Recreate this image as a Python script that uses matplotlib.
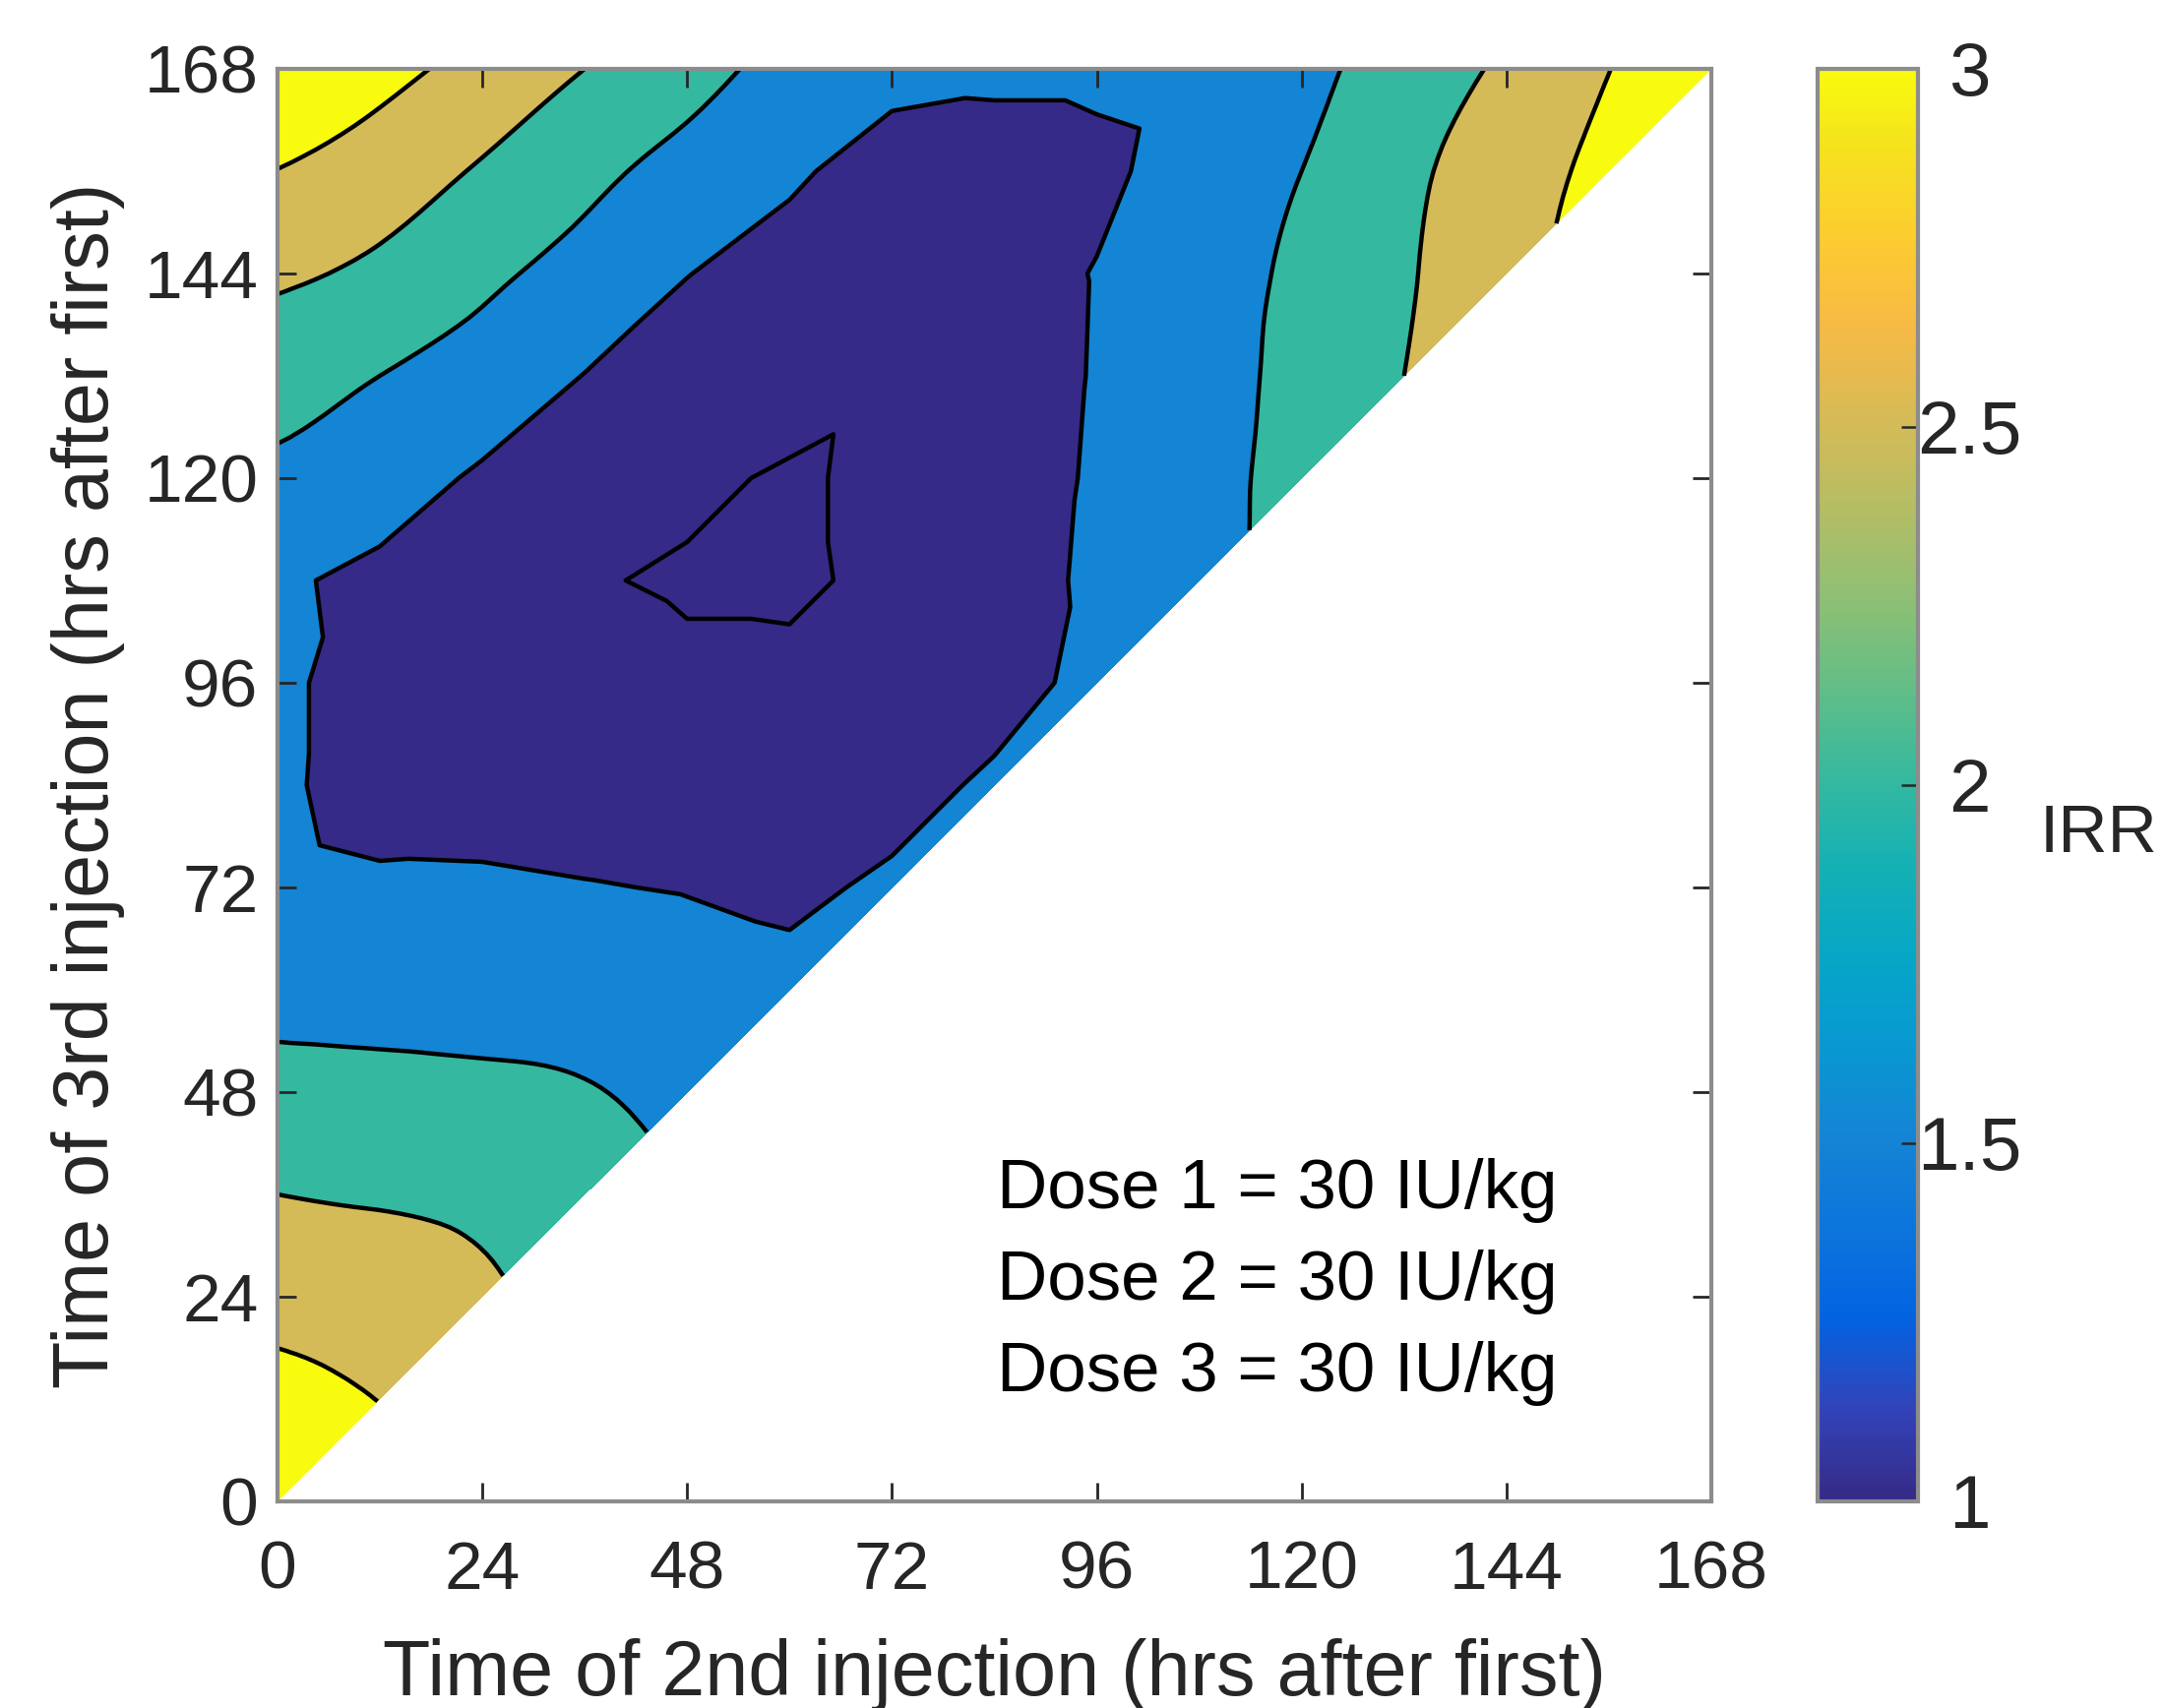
import numpy as np
import matplotlib
matplotlib.use("Agg")
import matplotlib.pyplot as plt
import matplotlib.tri as mtri
from matplotlib.colors import LinearSegmentedColormap, Normalize
from matplotlib.cm import ScalarMappable

plt.rcParams["font.family"] = ["Liberation Sans", "DejaVu Sans"]

# grid nodes (hrs after first injection)
hrs = [0, 12, 24, 36, 48, 60, 72, 84, 96, 108, 120, 132, 144, 156, 168]

# IRR: row k is y = hrs[k], entries are x = hrs[0..k] (only y >= x)
irr_rows = [
    [3.55],
    [3.17, 2.99],
    [2.83, 2.75, 2.57],
    [2.50, 2.45, 2.39, 2.235],
    [2.17, 2.13, 2.10, 2.03, 1.87],
    [1.85, 1.84, 1.82, 1.78, 1.70, 1.64],
    [1.64, 1.57, 1.56, 1.52, 1.48, 1.40, 1.58],
    [1.58, 1.30, 1.32, 1.28, 1.25, 1.30, 1.32, 1.58],
    [1.58, 1.32, 1.24, 1.12, 1.05, 1.04, 1.24, 1.30, 1.64],
    [1.56, 1.40, 1.30, 1.02, 0.97, 0.97, 1.04, 1.32, 1.57, 1.85],
    [1.87, 1.70, 1.44, 1.25, 1.05, 0.97, 1.05, 1.28, 1.55, 1.84, 2.17],
    [2.235, 2.00, 1.78, 1.49, 1.28, 1.12, 1.04, 1.25, 1.53, 1.82, 2.13, 2.50],
    [2.57, 2.39, 2.10, 1.82, 1.51, 1.32, 1.24, 1.30, 1.52, 1.78, 2.10, 2.45, 2.83],
    [2.99, 2.75, 2.45, 2.13, 1.84, 1.57, 1.30, 1.32, 1.40, 1.70, 2.00, 2.39, 2.75, 3.17],
    [3.55, 3.17, 2.83, 2.50, 2.17, 1.85, 1.64, 1.58, 1.58, 1.64, 1.87, 2.235, 2.57, 2.99, 3.55],
]

levels = [1.0, 1.5, 2.0, 2.5, 3.0]
ticks = [0, 24, 48, 72, 96, 120, 144, 168]
cbar_ticks = [1, 1.5, 2, 2.5, 3]
dose_lines = ["Dose 1 = 30 IU/kg", "Dose 2 = 30 IU/kg", "Dose 3 = 30 IU/kg"]

# parula (MATLAB) anchors
_par = [
    (0.2081, 0.1663, 0.5292), (0.1959, 0.2645, 0.7279), (0.0117, 0.3875, 0.8820),
    (0.0498, 0.4586, 0.8641), (0.0793, 0.5200, 0.8312), (0.0343, 0.5966, 0.8199),
    (0.0228, 0.6535, 0.7768), (0.0843, 0.6928, 0.7062), (0.2178, 0.7250, 0.6193),
    (0.3953, 0.7459, 0.5244), (0.5709, 0.7485, 0.4494), (0.7184, 0.7411, 0.3905),
    (0.8507, 0.7299, 0.3360), (0.9739, 0.7314, 0.2666), (0.9880, 0.8066, 0.1794),
    (0.9589, 0.8949, 0.1132), (0.9763, 0.9831, 0.0538),
]
_pos = [0, 4, 8, 12, 16, 20, 24, 28, 32, 36, 40, 44, 48, 52, 56, 60, 63]
parula = LinearSegmentedColormap.from_list("parula", [(p / 63, c) for p, c in zip(_pos, _par)])
norm = Normalize(1, 3)

# nodes + triangles on the upper triangle y >= x
xs, ys, zs = [], [], []
idx = {}
for j, row in enumerate(irr_rows):
    for i, v in enumerate(row):
        idx[(i, j)] = len(xs)
        xs.append(hrs[i]); ys.append(hrs[j]); zs.append(v)
tris = []
n = len(hrs) - 1
for i in range(n):
    for j in range(i, n):
        if j > i:
            tris.append([idx[(i, j)], idx[(i + 1, j)], idx[(i + 1, j + 1)]])
        tris.append([idx[(i, j)], idx[(i + 1, j + 1)], idx[(i, j + 1)]])
tri = mtri.Triangulation(xs, ys, tris)
zs = np.array(zs)

# smooth field for the outer bands; the low (dark) band keeps straight edges
tri_f, z_f = mtri.UniformTriRefiner(tri).refine_field(zs, subdiv=3)

fig = plt.figure(figsize=(21.99, 17.36), dpi=100)
ax = fig.add_axes([0.1282, 0.1210, 0.6626, 0.8387])
cax = fig.add_axes([0.8399, 0.1210, 0.0464, 0.8387])

col = {l: parula(norm(l)) for l in levels}
ax.tricontourf(tri_f, z_f, levels=[-10, 2.0, 2.5, 3.0, 10],
               colors=[col[1.5], col[2.0], col[2.5], col[3.0]])
ax.tricontourf(tri, zs, levels=[-10, 1.5], colors=[col[1.0]])
ax.tricontour(tri_f, z_f, levels=[2.0, 2.5, 3.0], colors="k", linewidths=3.2)
ax.tricontour(tri, zs, levels=[1.0, 1.5], colors="k", linewidths=3.2)

for k, t in enumerate(dose_lines):
    ax.text(84.3, 36.4 - 10.7 * k, t, fontsize=51, va="center", ha="left", color="k")

ax.set_xlim(0, 168); ax.set_ylim(0, 168)
ax.set_xticks(ticks); ax.set_yticks(ticks)
ax.tick_params(direction="in", top=True, right=True, length=14, width=2,
               color="#262626", labelsize=50, labelcolor="#262626")
ax.tick_params(axis="x", pad=28)
ax.tick_params(axis="y", pad=14)
for s in ax.spines.values():
    s.set_color("#8c8c8c"); s.set_linewidth(3); s.set_zorder(5)
ax.set_xlabel("Time of 2nd injection (hrs after first)", fontsize=57, color="#262626", labelpad=26)
ax.set_ylabel("Time of 3rd injection (hrs after first)", fontsize=57, color="#262626", labelpad=14)

cb = fig.colorbar(ScalarMappable(norm=norm, cmap=parula), cax=cax)
cb.set_ticks(cbar_ticks)
cb.set_ticklabels(["1", "1.5", "2", "2.5", "3"])
cax.tick_params(direction="in", length=12, width=1.8, color="#262626",
                labelsize=55, labelcolor="#262626", pad=38)
for lbl in cax.get_yticklabels():
    lbl.set_ha("center")
cb.outline.set_edgecolor("#8c8c8c"); cb.outline.set_linewidth(3)
fig.text(0.9427, 0.5115, "IRR", fontsize=50, color="#262626", ha="left", va="center")

fig.savefig("out.png", dpi=100)
